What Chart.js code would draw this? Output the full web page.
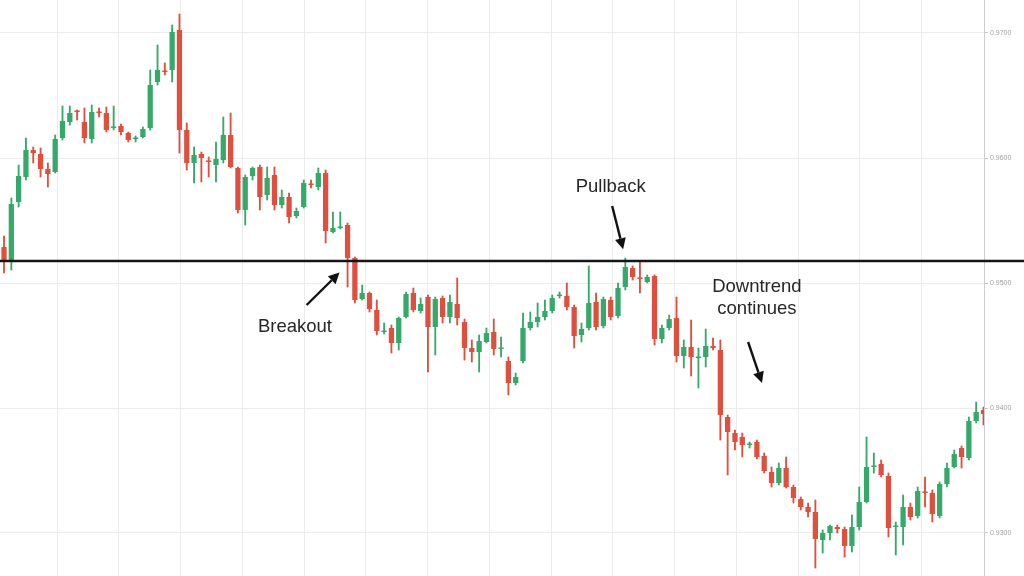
<!DOCTYPE html>
<html>
<head>
<meta charset="utf-8">
<script src="https://cdn.jsdelivr.net/npm/chart.js@4/dist/chart.umd.min.js"></script>
<style>
html,body{margin:0;padding:0;background:#ffffff;}
#wrap{width:1024px;height:576px;position:relative;}
</style>
</head>
<body>
<div id="wrap"><canvas id="chart"></canvas></div>
<script>
// ---- DATA (prices) ----
const opens = [
0.95288,0.95184,0.95648,0.95848,0.96064,0.96032,0.95912,0.95888,0.96160,0.96288,
0.96376,0.96288,0.96152,0.96368,0.96360,0.96240,0.96256,0.96200,0.96152,0.96168,
0.96240,0.96608,0.96696,0.96704,0.97024,0.96224,0.95960,0.96032,0.95976,0.95944,
0.95984,0.96184,0.95920,0.95584,0.95856,0.95928,0.95704,0.95864,0.95624,0.95688,
0.95536,0.95608,0.95792,0.95768,0.95880,0.95408,0.95440,0.95464,0.95200,0.94872,
0.94920,0.94784,0.94608,0.94640,0.94520,0.94728,0.94920,0.94776,0.94888,0.94648,
0.94880,0.94728,0.94832,0.94688,0.94480,0.94448,0.94528,0.94608,0.94472,0.94376,
0.94200,0.94376,0.94640,0.94688,0.94728,0.94776,0.94896,0.94896,0.94808,0.94584,
0.94640,0.94848,0.94656,0.94864,0.94736,0.94968,0.95120,0.95040,0.95008,0.95056,
0.94552,0.94640,0.94720,0.94416,0.94488,0.94400,0.94408,0.94496,0.94464,0.93928,
0.93800,0.93768,0.93704,0.93728,0.93616,0.93488,0.93400,0.93520,0.93368,0.93272,
0.93208,0.93168,0.92944,0.93000,0.93048,0.93032,0.92896,0.93048,0.93248,0.93528,
0.93552,0.93456,0.93048,0.93048,0.93208,0.93136,0.93328,0.93320,0.93136,0.93392,
0.93528,0.93680,0.93600,0.93896,0.93984
];
const closes = [
0.95184,0.95632,0.95856,0.96064,0.96040,0.95912,0.95872,0.96152,0.96296,0.96360,
0.96368,0.96160,0.96368,0.96360,0.96224,0.96248,0.96208,0.96144,0.96160,0.96232,
0.96584,0.96704,0.96688,0.97008,0.96224,0.95960,0.96024,0.96000,0.95968,0.95992,
0.96184,0.95928,0.95584,0.95848,0.95920,0.95688,0.95840,0.95624,0.95688,0.95528,
0.95576,0.95800,0.95784,0.95880,0.95416,0.95440,0.95448,0.95200,0.94864,0.94920,
0.94792,0.94616,0.94616,0.94520,0.94720,0.94912,0.94784,0.94832,0.94648,0.94872,
0.94728,0.94848,0.94720,0.94480,0.94448,0.94536,0.94600,0.94472,0.94480,0.94200,
0.94248,0.94640,0.94688,0.94728,0.94776,0.94880,0.94904,0.94808,0.94576,0.94632,
0.94840,0.94648,0.94872,0.94728,0.94960,0.95128,0.95048,0.95032,0.95048,0.94552,
0.94640,0.94712,0.94416,0.94488,0.94408,0.94408,0.94496,0.94480,0.93944,0.93808,
0.93728,0.93704,0.93712,0.93608,0.93496,0.93400,0.93520,0.93368,0.93280,0.93208,
0.93168,0.92952,0.93000,0.93056,0.93032,0.92896,0.93048,0.93248,0.93528,0.93536,
0.93464,0.93040,0.93056,0.93208,0.93128,0.93336,0.93320,0.93152,0.93392,0.93520,
0.93632,0.93608,0.93896,0.93968,0.93952
];
const highs = [
0.95376,0.95680,0.95944,0.96160,0.96088,0.96080,0.95960,0.96184,0.96416,0.96416,
0.96384,0.96400,0.96424,0.96400,0.96408,0.96416,0.96272,0.96208,0.96176,0.96248,
0.96704,0.96904,0.96760,0.97064,0.97152,0.96280,0.96088,0.96048,0.96008,0.96128,
0.96328,0.96360,0.95928,0.95864,0.95928,0.95944,0.95928,0.95928,0.95744,0.95720,
0.95600,0.95824,0.95824,0.95920,0.95904,0.95568,0.95568,0.95480,0.95208,0.94984,
0.94928,0.94864,0.94680,0.94664,0.94728,0.94928,0.94960,0.94880,0.94904,0.94888,
0.94896,0.94904,0.95040,0.94712,0.94544,0.94584,0.94640,0.94712,0.94568,0.94408,
0.94280,0.94760,0.94768,0.94840,0.94864,0.94904,0.94928,0.95000,0.94824,0.94680,
0.95136,0.94920,0.94888,0.94888,0.95000,0.95200,0.95136,0.95168,0.95064,0.95064,
0.94664,0.94744,0.94888,0.94544,0.94704,0.94480,0.94632,0.94560,0.94544,0.93944,
0.93824,0.93800,0.93728,0.93744,0.93640,0.93528,0.93560,0.93608,0.93384,0.93288,
0.93240,0.93264,0.93024,0.93064,0.93064,0.93048,0.93144,0.93368,0.93768,0.93640,
0.93584,0.93480,0.93088,0.93304,0.93240,0.93368,0.93448,0.93344,0.93408,0.93560,
0.93664,0.93696,0.93928,0.94048,0.94008
];
const lows = [
0.95080,0.95104,0.95608,0.95824,0.95960,0.95848,0.95768,0.95880,0.96144,0.96264,
0.96304,0.96120,0.96120,0.96328,0.96208,0.96224,0.96184,0.96128,0.96128,0.96160,
0.96224,0.96584,0.96664,0.96608,0.96040,0.95904,0.95800,0.95808,0.95848,0.95808,
0.95960,0.95920,0.95560,0.95464,0.95824,0.95584,0.95664,0.95584,0.95600,0.95480,
0.95520,0.95600,0.95760,0.95744,0.95320,0.95400,0.95432,0.94968,0.94840,0.94864,
0.94768,0.94584,0.94592,0.94440,0.94464,0.94720,0.94768,0.94760,0.94288,0.94424,
0.94680,0.94680,0.94664,0.94384,0.94368,0.94288,0.94520,0.94424,0.94408,0.94104,
0.94184,0.94360,0.94624,0.94648,0.94704,0.94760,0.94880,0.94784,0.94480,0.94528,
0.94624,0.94624,0.94640,0.94704,0.94720,0.94944,0.95024,0.94920,0.95000,0.94504,
0.94520,0.94624,0.94368,0.94320,0.94256,0.94160,0.94328,0.94464,0.93744,0.93464,
0.93664,0.93608,0.93680,0.93592,0.93480,0.93368,0.93384,0.93360,0.93240,0.93184,
0.93128,0.92720,0.92840,0.92944,0.93000,0.92808,0.92848,0.93024,0.93240,0.93480,
0.93448,0.92968,0.92824,0.92904,0.93104,0.93120,0.93208,0.93088,0.93120,0.93368,
0.93520,0.93520,0.93584,0.93880,0.93864
];
const levelValue = 0.95176;            // horizontal breakout level
const yTickValues = [0.9300, 0.9400, 0.9500, 0.9600, 0.9700];

// annotation texts, anchored in data space (candle index, price)
const textLabels = [
  { lines: ["Breakout"], x: 39.8, y: 0.94652 },
  { lines: ["Pullback"], x: 83.0, y: 0.95772 },
  { lines: ["Downtrend", "continues"], x: 103.0, y: 0.94880 }
];
const arrows = [
  { from: [41.4, 0.94824], to: [45.9, 0.95084] },
  { from: [83.2, 0.95616], to: [84.7, 0.95270] },
  { from: [101.8, 0.94528], to: [103.7, 0.94200] }
];

// ---- styling ----
const GREEN = '#35a96a';
const RED = '#de4f3d';
const candleColors = opens.map((o, i) => closes[i] >= o ? GREEN : RED);
const gridFirst = 7.25, gridStep = 8.45, gridCount = 15;

const overlayPlugin = {
  id: 'overlay',
  afterDatasetsDraw(chart) {
    const ctx = chart.ctx;
    const xs = chart.scales.x, ys = chart.scales.y;
    ctx.save();
    const ly = ys.getPixelForValue(levelValue);
    ctx.strokeStyle = '#151515';
    ctx.lineWidth = 2.4;
    ctx.beginPath();
    ctx.moveTo(0, ly);
    ctx.lineTo(chart.width, ly);
    ctx.stroke();

    ctx.fillStyle = '#111';
    ctx.strokeStyle = '#111';
    ctx.lineWidth = 2.4;
    arrows.forEach(a => {
      const x1 = xs.getPixelForValue(a.from[0]), y1 = ys.getPixelForValue(a.from[1]);
      const x2 = xs.getPixelForValue(a.to[0]), y2 = ys.getPixelForValue(a.to[1]);
      const ang = Math.atan2(y2 - y1, x2 - x1);
      const head = 11, hw = 5.5;
      const bx = x2 - head * Math.cos(ang), by = y2 - head * Math.sin(ang);
      ctx.beginPath();
      ctx.moveTo(x1, y1);
      ctx.lineTo(bx, by);
      ctx.stroke();
      ctx.beginPath();
      ctx.moveTo(x2, y2);
      ctx.lineTo(bx + hw * Math.sin(ang), by - hw * Math.cos(ang));
      ctx.lineTo(bx - hw * Math.sin(ang), by + hw * Math.cos(ang));
      ctx.closePath();
      ctx.fill();
    });

    ctx.fillStyle = '#262626';
    ctx.font = '18.5px "Liberation Sans", Arial, sans-serif';
    ctx.textAlign = 'center';
    ctx.textBaseline = 'middle';
    textLabels.forEach(t => {
      const cx = xs.getPixelForValue(t.x), cy = ys.getPixelForValue(t.y);
      const lh = 22;
      const start = cy - (t.lines.length - 1) * lh / 2;
      t.lines.forEach((ln, k) => ctx.fillText(ln, cx, start + k * lh));
    });
    ctx.restore();
  }
};

new Chart(document.getElementById('chart'), {
  type: 'bar',
  data: {
    datasets: [
      {
        label: 'body',
        data: opens.map((o, i) => ({ x: i, y: [o, closes[i]] })),
        backgroundColor: candleColors,
        borderWidth: 0,
        borderSkipped: false,
        grouped: false,
        barPercentage: 0.9,
        categoryPercentage: 0.8,
        minBarLength: 1.5
      },
      {
        label: 'wick',
        data: lows.map((l, i) => ({ x: i, y: [l, highs[i]] })),
        backgroundColor: candleColors,
        borderWidth: 0,
        borderSkipped: false,
        grouped: false,
        barThickness: 1.2
      }
    ]
  },
  options: {
    responsive: true,
    maintainAspectRatio: false,
    animation: false,
    layout: { padding: 0, autoPadding: false },
    plugins: { legend: { display: false }, tooltip: { enabled: false } },
    scales: {
      x: {
        type: 'linear',
        position: 'bottom',
        min: -0.55,
        max: 134.07,
        offset: false,
        afterBuildTicks: s => {
          s.ticks = Array.from({ length: gridCount }, (_, k) => ({ value: gridFirst + k * gridStep }));
        },
        afterFit: s => { s.height = 0; s.paddingLeft = 0; s.paddingRight = 0; },
        ticks: { display: false },
        grid: { color: '#ececec', lineWidth: 1, drawTicks: false, offset: false },
        border: { display: false }
      },
      y: {
        type: 'linear',
        position: 'right',
        min: 0.92656,
        max: 0.97264,
        afterBuildTicks: s => { s.ticks = yTickValues.map(v => ({ value: v })); },
        afterFit: s => { s.width = 40; s.paddingTop = 0; s.paddingBottom = 0; },
        ticks: {
          callback: v => Number(v).toFixed(4),
          color: '#a0a0a0',
          font: { size: 7, family: '"Liberation Sans", Arial, sans-serif' },
          padding: 2
        },
        grid: { color: '#ececec', lineWidth: 1, tickLength: 4, tickColor: '#c8c8c8' },
        border: { display: true, color: '#cdcdcd', width: 1 }
      }
    }
  },
  plugins: [overlayPlugin]
});
</script>
</body>
</html>
